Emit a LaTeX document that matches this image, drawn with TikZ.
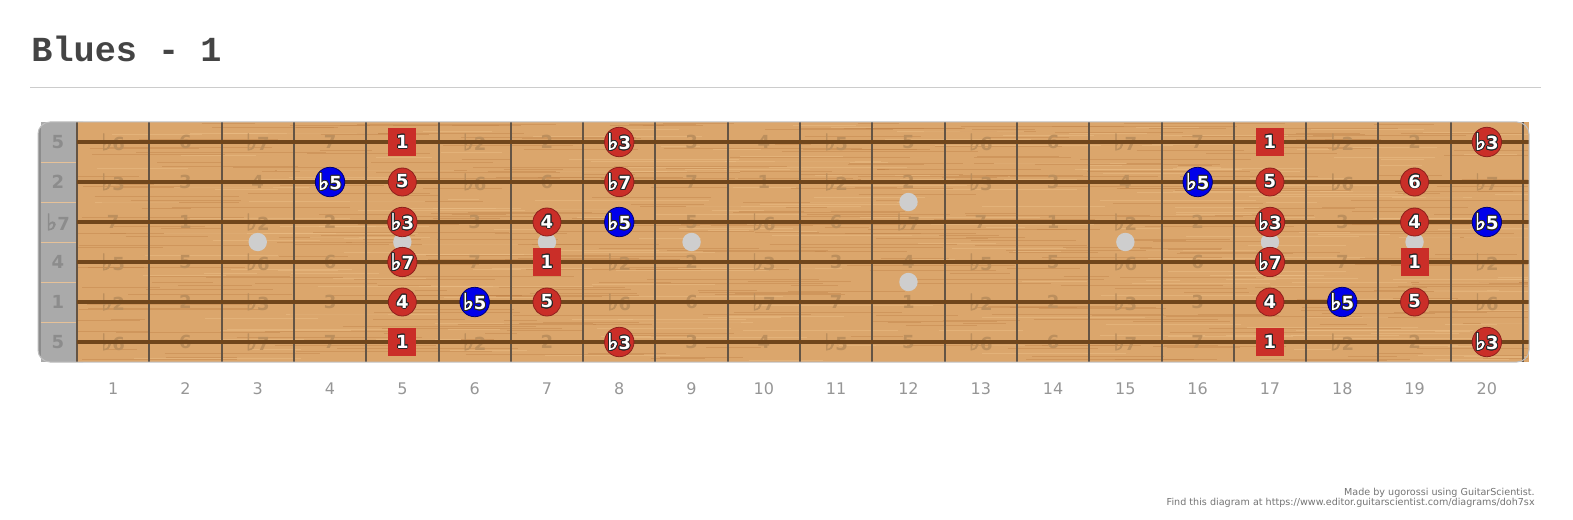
\documentclass[tikz,border=0pt]{standalone}
\usepackage{fontspec}
\setmainfont{DejaVu Sans}
\newfontfamily\titlefont{Liberation Mono}
\newfontfamily\flatfont[FakeBold=3]{DejaVu Sans}
\usepackage{contour}
\contourlength{0.45pt}
\definecolor{woodtan}{RGB}{219,166,108}
\definecolor{grainbrown}{RGB}{190,128,70}
\definecolor{grainlight}{RGB}{236,190,135}
\definecolor{notered}{RGB}{202,46,40}
\definecolor{noteblue}{RGB}{0,0,235}
\definecolor{fretgray}{RGB}{100,84,68}
\definecolor{stringbrown}{RGB}{112,70,28}
\definecolor{nutgray}{RGB}{170,170,170}
\definecolor{inlaygray}{RGB}{206,206,206}
\definecolor{titlegray}{RGB}{68,68,68}
\definecolor{labelgray}{RGB}{150,150,150}
\newcommand\fl{\scalebox{1.3}[1.25]{\flatfont ♭}}
\newcommand\ivname[1]{\ifcase#1 1\or \fl2\or 2\or \fl3\or 3\or 4\or \fl5\or 5\or \fl6\or 6\or \fl7\or 7\fi}

\begin{document}
\begin{tikzpicture}[x=0.5pt, y=-0.5pt,
  rednote/.style={circle, draw=notered!70!black, fill=notered, line width=0.4pt, minimum size=14pt, inner sep=0pt, text=white, font=\bfseries\fontsize{9}{9}\selectfont},
  bluenote/.style={rednote, draw=noteblue!50!black, fill=noteblue},
  rootbox/.style={rectangle, fill=notered, minimum size=14pt, inner sep=0pt, text=white, font=\bfseries\fontsize{9}{9}\selectfont},
  ghost/.style={inner sep=0pt, text=woodtan!86!black, font=\bfseries\fontsize{9}{9}\selectfont},
  openlbl/.style={inner sep=0pt, text=black!45, font=\bfseries\fontsize{9}{9}\selectfont},
  fretnum/.style={inner sep=0pt, text=labelgray, font=\fontsize{8}{8}\selectfont},
  footnote/.style={inner sep=0pt, text=black!55, font=\fontsize{4.8}{5}\selectfont}
]
  \useasboundingbox (0,0) rectangle (1573,519);

  \node[anchor=base west, inner sep=0pt, text=titlegray, font=\titlefont\bfseries\fontsize{17.6}{20}\selectfont] (title) at (31,62) {Blues - 1};
  \draw[black!20, line width=0.5pt] (30,88) -- (1541,88);

  \fill[black!45, rounded corners=6pt] (38,122) rectangle (95,362);
  \fill[nutgray] (41,122) rectangle (95,362);
  \fill[woodtan] (77,122) rectangle (1529,362);
  \pgfmathsetseed{11}
  \foreach \i in {1,...,420} {
    \pgfmathsetmacro\gx{60+1440*rnd}
    \pgfmathsetmacro\gy{123+238*rnd}
    \pgfmathsetmacro\gl{30+170*rnd}
    \draw[grainbrown, line width=0.4pt, opacity=0.4] ({max(\gx,78)},\gy) -- ({min(\gx+\gl,1528)},\gy);
  }
  \foreach \i in {1,...,250} {
    \pgfmathsetmacro\gx{60+1440*rnd}
    \pgfmathsetmacro\gy{123+238*rnd}
    \pgfmathsetmacro\gl{30+150*rnd}
    \draw[grainlight, line width=0.5pt, opacity=0.5] ({max(\gx,78)},\gy) -- ({min(\gx+\gl,1528)},\gy);
  }
  \foreach \s in {1,...,5}
    \draw[woodtan!70!white, line width=0.3pt] (41,{122+40*\s}) -- (77,{122+40*\s});

  \foreach \s/\open in {1/7,2/2,3/10,4/5,5/0,6/7} {
    \node[openlbl] (o-\s) at (58,{102+40*\s}) {\ivname{\open}};
    \foreach \f in {1,...,20} {
      \pgfmathtruncatemacro\iv{mod(\open+\f,12)}
      \node[ghost] (g-\s-\f) at ({77+72.3*(\f-0.5)},{102+40*\s}) {\ivname{\iv}};
    }
  }

  \draw[fretgray, line width=1.3pt] (77,122) -- (77,362);
  \foreach \k in {1,...,20}
    \draw[fretgray, line width=1pt] ({77+72.3*\k},122) -- ({77+72.3*\k},362);
  \foreach \s in {1,...,6}
    \draw[stringbrown, line width=1.9pt] (77,{102+40*\s}) -- (1529,{102+40*\s});
  \draw[black!25, line width=0.5pt, rounded corners=6pt] (38,122) rectangle (1529,362);

  \foreach \f in {3,5,7,9,15,17,19}
    \fill[inlaygray] ({77+72.3*(\f-0.5)},242) circle (4.6pt);
  \fill[inlaygray] ({77+72.3*11.5},202) circle (4.6pt);
  \fill[inlaygray] ({77+72.3*11.5},282) circle (4.6pt);

  \foreach \f/\s/\lbl/\kind in {
    5/1/1/rootbox, 8/1/\fl3/rednote, 17/1/1/rootbox, 20/1/\fl3/rednote,
    4/2/\fl5/bluenote, 5/2/5/rednote, 8/2/\fl7/rednote, 16/2/\fl5/bluenote, 17/2/5/rednote, 19/2/6/rednote,
    5/3/\fl3/rednote, 7/3/4/rednote, 8/3/\fl5/bluenote, 17/3/\fl3/rednote, 19/3/4/rednote, 20/3/\fl5/bluenote,
    5/4/\fl7/rednote, 7/4/1/rootbox, 17/4/\fl7/rednote, 19/4/1/rootbox,
    5/5/4/rednote, 6/5/\fl5/bluenote, 7/5/5/rednote, 17/5/4/rednote, 18/5/\fl5/bluenote, 19/5/5/rednote,
    5/6/1/rootbox, 8/6/\fl3/rednote, 17/6/1/rootbox, 20/6/\fl3/rednote}
    \node[\kind] (m-\f-\s) at ({77+72.3*(\f-0.5)},{102+40*\s}) {\contour{black!85}{\lbl}};

  \foreach \k in {1,...,20}
    \node[fretnum] (f\k) at ({77+72.3*(\k-0.5)},389) {\k};

  \node[footnote, anchor=base east] (made) at (1535,495) {Made by ugorossi using GuitarScientist.};
  \node[footnote, anchor=base east] (find) at (1535,505) {Find this diagram at https://www.editor.guitarscientist.com/diagrams/doh7sx};
\end{tikzpicture}
\end{document}
